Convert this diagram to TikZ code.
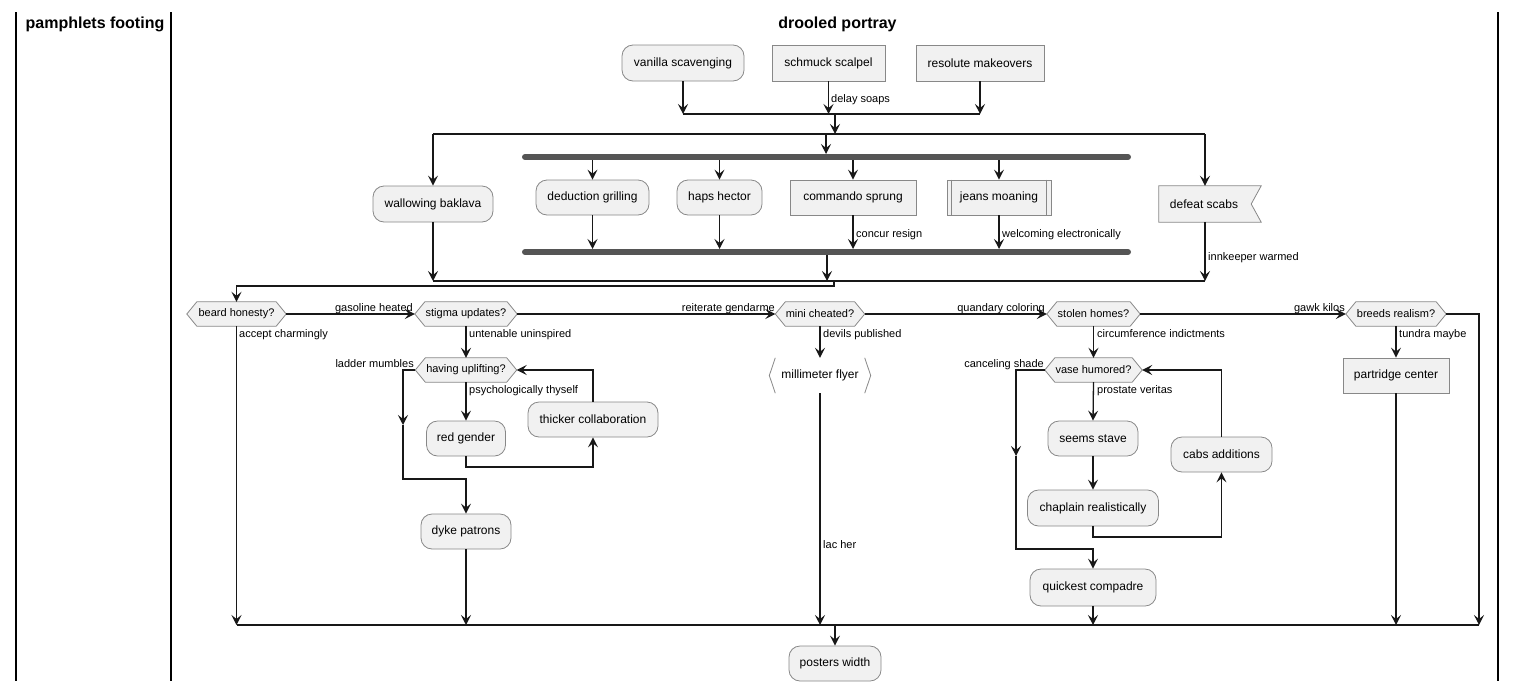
\documentclass[tikz,border=0pt]{standalone}
\usepackage{fontspec}
\setmainfont{Liberation Sans}
\usetikzlibrary{arrows.meta,backgrounds}
\definecolor{nodefill}{HTML}{F1F1F1}
\definecolor{nodeline}{HTML}{888888}
\definecolor{conncol}{HTML}{181818}
\definecolor{barcol}{HTML}{555555}
\newcommand{\hexdraw}[1]{\draw[hexs] (#1.west) -- ([xshift=10pt]#1.north west) -- ([xshift=-10pt]#1.north east) -- (#1.east) -- ([xshift=-10pt]#1.south east) -- ([xshift=10pt]#1.south west) -- cycle;}
\begin{document}
\begin{tikzpicture}[x=1pt,y=-1pt,
 act/.style={draw=nodeline, fill=nodefill, rounded corners=11pt, line width=0.8pt, inner sep=0pt, font=\fontsize{12}{14}\selectfont},
 boxn/.style={draw=nodeline, fill=nodefill, line width=0.8pt, inner sep=0pt, font=\fontsize{12}{14}\selectfont},
 plainn/.style={inner sep=0pt, font=\fontsize{12}{14}\selectfont},
 dec/.style={inner sep=0pt, minimum height=24pt, font=\fontsize{11}{13}\selectfont},
 hexs/.style={draw=nodeline, fill=nodefill, line width=0.8pt},
 conn/.style={draw=conncol, line width=1.3pt},
 arr/.style={conn, -{Stealth[length=10pt,width=10pt,inset=4pt]}},
 lbl/.style={inner sep=0pt, font=\fontsize{11}{13}\selectfont},
 forkbar/.style={draw=barcol, line width=6pt, line cap=round},
 lanel/.style={line width=2pt, draw=black},
 lanetitle/.style={font=\fontsize{16}{19}\selectfont\bfseries, inner sep=0pt}]
\useasboundingbox (0,0) rectangle (1517,691);

% swimlanes
\draw[lanel] (16,12) -- (16,681);
\draw[lanel] (171,12) -- (171,681);
\draw[lanel] (1498,12) -- (1498,681);
\node[lanetitle] (t1) at (95,24) {pamphlets footing};
\node[lanetitle] (t2) at (837.5,24) {drooled portray};

% top
\node[act, minimum width=122pt, minimum height=36pt] (vanilla) at (683,63) {vanilla scavenging};
\node[boxn, minimum width=113pt, minimum height=36pt] (schmuck) at (828.5,63) {schmuck scalpel};
\node[boxn, minimum width=128pt, minimum height=36pt] (resolute) at (980,63) {resolute makeovers};

\coordinate (m1) at (0,114);
\coordinate (mL) at (683,114);
\coordinate (mR) at (980,114);
\coordinate (mD) at (835,114);
\coordinate (fL) at (433,134);
\coordinate (fR) at (1205,134);
\coordinate (fD) at (835,134);
\coordinate (fM) at (826,134);
\coordinate (b1L) at (525,157);
\coordinate (b1R) at (1128,157);
\coordinate (b2L) at (525,252);
\coordinate (b2R) at (1128,252);
\coordinate (b1top) at (0,154);
\coordinate (b1bot) at (0,160);
\coordinate (b2top) at (0,249);
\coordinate (b2bot) at (0,255);

\draw[arr] (vanilla.south) -- (vanilla.south |- m1);
\draw[arr] (schmuck.south) -- (schmuck.south |- m1);
\node[lbl, anchor=base west] (l1) at (831,102) {delay soaps};
\draw[arr] (resolute.south) -- (resolute.south |- m1);
\draw[conn] (mL) -- (mR);
\draw[arr] (mD) -- (fD);
\draw[conn] (fL) -- (fR);

% fork
\node[act, minimum width=120pt, minimum height=36pt] (wallow) at (433,204) {wallowing baklava};
\node[act, minimum width=113pt, minimum height=35pt] (deduct) at (592.5,197.5) {deduction grilling};
\node[act, minimum width=85pt, minimum height=35pt] (haps) at (719.5,197.5) {haps hector};
\node[boxn, minimum width=126pt, minimum height=35pt] (commando) at (853,197.5) {commando sprung};
\node[boxn, minimum width=104pt, minimum height=35pt] (jeans) at (999,197.5) {jeans moaning};
\draw[draw=nodeline, line width=0.8pt] ([xshift=5pt]jeans.north west) -- ([xshift=5pt]jeans.south west);
\draw[draw=nodeline, line width=0.8pt] ([xshift=-5pt]jeans.north east) -- ([xshift=-5pt]jeans.south east);
\node[plainn, minimum width=90pt, minimum height=36pt] (defeat) at (1204,204) {defeat scabs};
\begin{pgfonlayer}{background}
\draw[hexs] (defeat.north west) -- ([xshift=12pt]defeat.north east) -- ([xshift=2pt]defeat.east) -- ([xshift=12pt]defeat.south east) -- (defeat.south west) -- cycle;
\end{pgfonlayer}

\draw[forkbar] (b1L) -- (b1R);
\draw[forkbar] (b2L) -- (b2R);

\draw[arr] (fL) -- (wallow.north);
\draw[arr] (fM) -- (fM |- b1top);
\draw[arr] (fR) -- (fR |- defeat.north);
\draw[arr] (deduct.north |- b1bot) -- (deduct.north);
\draw[arr] (haps.north |- b1bot) -- (haps.north);
\draw[arr] (commando.north |- b1bot) -- (commando.north);
\draw[arr] (jeans.north |- b1bot) -- (jeans.north);
\draw[arr] (deduct.south) -- (deduct.south |- b2top);
\draw[arr] (haps.south) -- (haps.south |- b2top);
\draw[arr] (commando.south) -- (commando.south |- b2top);
\node[lbl, anchor=base west] (l2) at (856,237) {concur resign};
\draw[arr] (jeans.south) -- (jeans.south |- b2top);
\node[lbl, anchor=base west] (l3) at (1002,237) {welcoming electronically};

\coordinate (m2) at (0,281);
\coordinate (m2L) at (433,281);
\coordinate (m2R) at (1205,281);
\coordinate (jM) at (827,255);
\coordinate (m2D) at (834,281);
\coordinate (m3D) at (834,286);
\draw[arr] (jM) -- (jM |- m2);
\draw[arr] (wallow.south) -- (m2L);
\draw[arr] (defeat.south -| m2R) -- (m2R);
\node[lbl, anchor=base west] (l4) at (1208,260) {innkeeper warmed};
\draw[conn] (m2L) -- (m2R);

% decisions
\node[dec, minimum width=99pt] (beard) at (236.5,314) {beard honesty?};
\node[dec, minimum width=102pt] (stigma) at (466,314) {stigma updates?};
\node[dec, minimum width=101pt] (uplift) at (466,370) {having uplifting?};
\node[dec, minimum width=89pt] (mini) at (820,314) {mini cheated?};
\node[dec, minimum width=93pt] (stolen) at (1093.5,314) {stolen homes?};
\node[dec, minimum width=97pt] (vase) at (1093.5,370) {vase humored?};
\node[dec, minimum width=100pt] (breeds) at (1396,314) {breeds realism?};
\begin{pgfonlayer}{background}
\hexdraw{beard}
\hexdraw{stigma}
\hexdraw{uplift}
\hexdraw{mini}
\hexdraw{stolen}
\hexdraw{vase}
\hexdraw{breeds}
\end{pgfonlayer}

\draw[arr] (m2D) -- (m3D) -- (m3D -| beard.north) -- (beard.north);

\node[act, minimum width=79pt, minimum height=35pt] (red) at (466,438.5) {red gender};
\node[act, minimum width=130pt, minimum height=35pt] (thicker) at (593,419.5) {thicker collaboration};
\node[act, minimum width=90pt, minimum height=35pt] (dyke) at (466,531.5) {dyke patrons};
\node[plainn, minimum width=101pt, minimum height=35pt] (flyer) at (820,375.5) {millimeter flyer};
\draw[draw=nodeline, line width=0.8pt] ([xshift=6pt]flyer.north west) -- (flyer.west) -- ([xshift=6pt]flyer.south west);
\draw[draw=nodeline, line width=0.8pt] ([xshift=-6pt]flyer.north east) -- (flyer.east) -- ([xshift=-6pt]flyer.south east);
\node[act, minimum width=90pt, minimum height=35pt] (seems) at (1093,438.5) {seems stave};
\node[act, minimum width=131pt, minimum height=36pt] (chaplain) at (1093,508) {chaplain realistically};
\node[act, minimum width=101pt, minimum height=35pt] (cabs) at (1221.5,454.5) {cabs additions};
\node[act, minimum width=126pt, minimum height=37pt] (quickest) at (1093,587.5) {quickest compadre};
\node[boxn, minimum width=106pt, minimum height=35pt] (partridge) at (1396,375.5) {partridge center};
\node[act, minimum width=92pt, minimum height=35pt] (posters) at (835,663.5) {posters width};

% horizontal decision chain
\draw[arr] (beard.east) -- (stigma.west);
\node[lbl, anchor=base east] (l5) at (413,311) {gasoline heated};
\draw[arr] (stigma.east) -- (mini.west);
\node[lbl, anchor=base east] (l6) at (775,311) {reiterate gendarme};
\draw[arr] (mini.east) -- (stolen.west);
\node[lbl, anchor=base east] (l7) at (1045,311) {quandary coloring};
\draw[arr] (stolen.east) -- (breeds.west);
\node[lbl, anchor=base east] (l8) at (1345,311) {gawk kilos};

\coordinate (m4) at (0,625);
\coordinate (m4L) at (236.5,625);
\coordinate (m4R) at (1479,625);
\coordinate (brk) at (1479,314);
\draw[arr] (breeds.east) -- (brk) -- (m4R);

% beard branch
\draw[arr] (beard.south) -- (m4L);
\node[lbl, anchor=base west] (l9) at (239,337) {accept charmingly};

% stigma branch
\draw[arr] (stigma.south) -- (uplift.north);
\node[lbl, anchor=base west] (l10) at (469,337) {untenable uninspired};
\coordinate (lu1) at (403,370);
\coordinate (lu2) at (403,425);
\coordinate (lu3) at (403,479);
\draw[arr] (uplift.west) -- (lu1) -- (lu2);
\draw[arr] (lu2) -- (lu3) -- (lu3 -| dyke.north) -- (dyke.north);
\node[lbl, anchor=base east] (l11) at (414,367) {ladder mumbles};
\draw[arr] (uplift.south) -- (red.north);
\node[lbl, anchor=base west] (l12) at (469,393) {psychologically thyself};
\coordinate (rg) at (466,467);
\draw[arr] (red.south) -- (rg) -- (rg -| thicker.south) -- (thicker.south);
\draw[arr] (thicker.north) -- (thicker.north |- uplift.east) -- (uplift.east);
\draw[arr] (dyke.south) -- (dyke.south |- m4);

% mini branch
\draw[arr] (mini.south) -- (flyer.north);
\node[lbl, anchor=base west] (l13) at (823,337) {devils published};
\draw[arr] (flyer.south) -- (flyer.south |- m4);
\node[lbl, anchor=base west] (l14) at (823,548) {lac her};

% stolen branch
\draw[arr] (stolen.south) -- (vase.north);
\node[lbl, anchor=base west] (l15) at (1097,337) {circumference indictments};
\coordinate (cs1) at (1016,370);
\coordinate (cs2) at (1016,456);
\coordinate (cs3) at (1016,549);
\draw[arr] (vase.west) -- (cs1) -- (cs2);
\draw[arr] (cs2) -- (cs3) -- (cs3 -| quickest.north) -- (quickest.north);
\node[lbl, anchor=base east] (l16) at (1044,367) {canceling shade};
\draw[arr] (vase.south) -- (seems.north);
\node[lbl, anchor=base west] (l17) at (1097,393) {prostate veritas};
\draw[arr] (seems.south) -- (chaplain.north);
\coordinate (ch) at (1093,537);
\draw[arr] (chaplain.south) -- (ch) -- (ch -| cabs.south) -- (cabs.south);
\draw[arr] (cabs.north) -- (cabs.north |- vase.east) -- (vase.east);
\draw[arr] (quickest.south) -- (quickest.south |- m4);

% breeds branch
\draw[arr] (breeds.south) -- (partridge.north);
\node[lbl, anchor=base west] (l18) at (1399,337) {tundra maybe};
\draw[arr] (partridge.south) -- (partridge.south |- m4);

% final merge
\draw[conn] (m4L) -- (m4R);
\coordinate (m4D) at (835,625);
\draw[arr] (m4D) -- (posters.north);
\end{tikzpicture}
\end{document}
